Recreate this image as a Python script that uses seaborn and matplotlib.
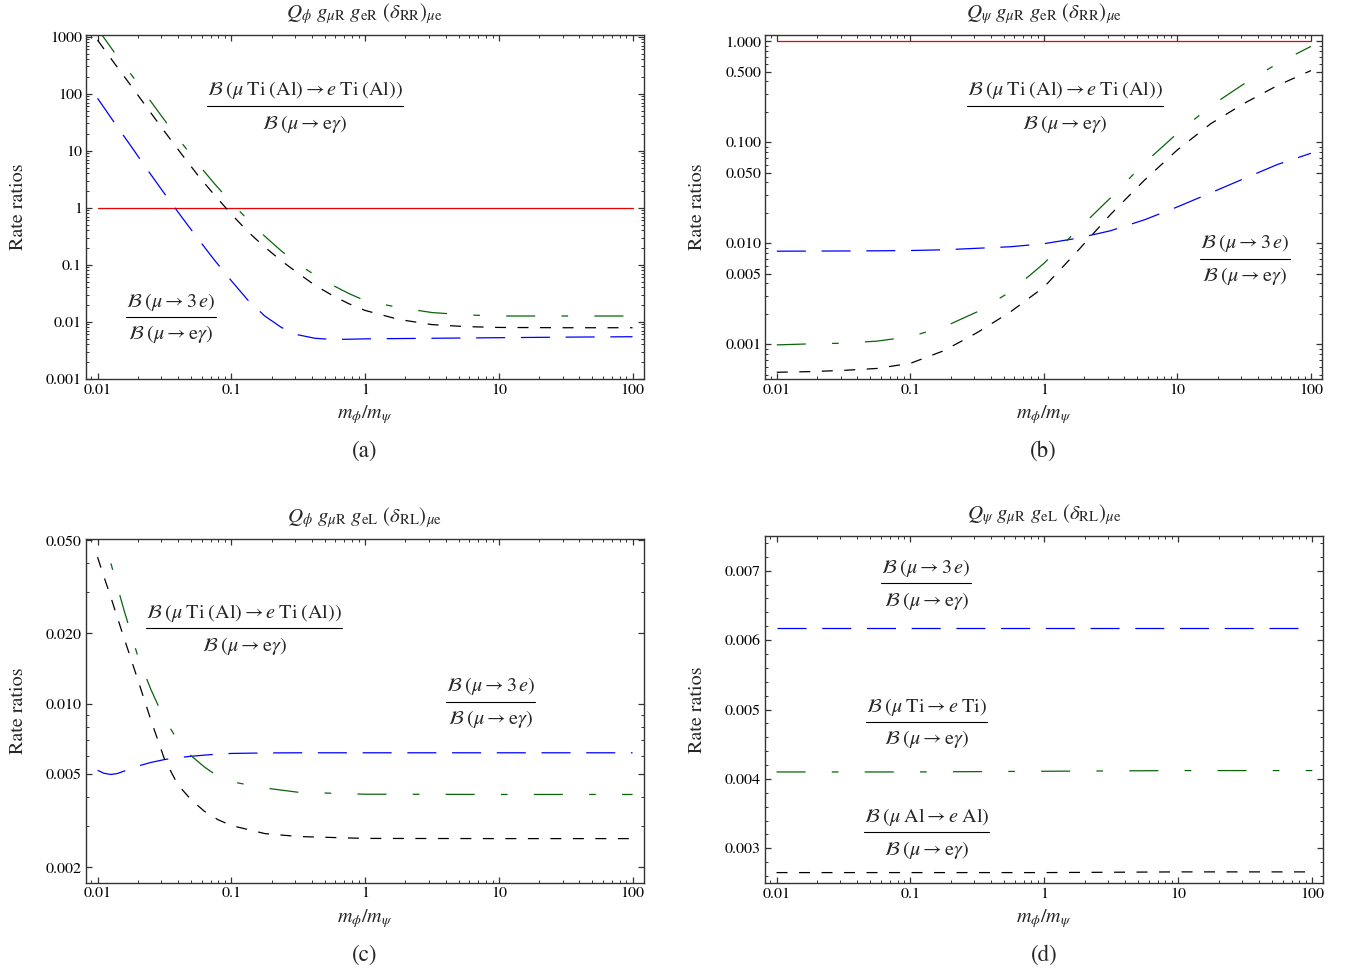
import matplotlib
matplotlib.use("Agg")
import matplotlib.pyplot as plt
from matplotlib import ticker
from matplotlib.lines import Line2D
import pandas as pd
import seaborn as sns

# ---------------------------------------------------------------- data
# mass ratio m_phi / m_psi sampled for each panel
m_a = [0.01, 0.0133, 0.0178, 0.0237, 0.0316, 0.0422, 0.0562, 0.075, 0.1, 0.133,
       0.178, 0.237, 0.316, 0.422, 0.562, 0.75, 1, 1.78, 3.16, 5.62, 10, 31.6, 100]
a_mu3e = [83.2, 31.6, 12.0, 4.57, 1.78, 0.708, 0.288, 0.120, 0.0525, 0.0240,
          0.0126, 0.00794, 0.00589, 0.00513, 0.00490, 0.00493, 0.00501, 0.00507,
          0.00513, 0.00519, 0.00525, 0.00537, 0.00546]
a_ti = [1380, 537, 219, 87.1, 34.7, 14.1, 5.89, 2.63, 1.23, 0.617, 0.316, 0.174,
        0.102, 0.0661, 0.0447, 0.0316, 0.0234, 0.0178, 0.0145, 0.0132, 0.0126,
        0.0126, 0.0126]
a_al = [871, 347, 138, 55.0, 21.9, 8.91, 3.72, 1.66, 0.776, 0.380, 0.204, 0.117,
        0.0708, 0.0437, 0.0295, 0.0209, 0.0158, 0.0110, 0.00891, 0.00822, 0.00794,
        0.00785, 0.00785]

m_b = [0.01, 0.0178, 0.0316, 0.0562, 0.1, 0.178, 0.316, 0.562, 1, 1.78, 3.16,
       5.62, 10, 17.8, 31.6, 56.2, 100]
b_mu3e = [0.00834, 0.00836, 0.00838, 0.00841, 0.00847, 0.00861, 0.00891, 0.00923,
          0.00989, 0.0112, 0.0133, 0.0170, 0.0229, 0.0316, 0.0437, 0.0603, 0.0778]
b_ti = [0.000984, 0.001007, 0.001023, 0.001072, 0.001189, 0.001479, 0.00209,
        0.00331, 0.00631, 0.0135, 0.0282, 0.0617, 0.123, 0.229, 0.380, 0.603, 0.891]
b_al = [0.000527, 0.000535, 0.000550, 0.000575, 0.000646, 0.000861, 0.00130,
        0.00209, 0.00367, 0.00832, 0.0193, 0.0417, 0.0841, 0.153, 0.243, 0.365, 0.513]

m_c = [0.01, 0.0112, 0.0126, 0.0141, 0.0158, 0.02, 0.0251, 0.0316, 0.0398, 0.0501,
       0.0631, 0.0794, 0.1, 0.178, 0.316, 1, 10, 100]
c_mu3e = [0.00520, 0.00505, 0.00499, 0.00504, 0.00516, 0.00542, 0.00562, 0.00578,
          0.00589, 0.00597, 0.00604, 0.00610, 0.00614, 0.00617, 0.00618, 0.00618,
          0.00618, 0.00618]
c_ti = [0.0676, 0.0519, 0.0398, 0.0316, 0.0251, 0.0160, 0.0115, 0.00861, 0.00700,
        0.00600, 0.00537, 0.00490, 0.00465, 0.00437, 0.00419, 0.00411, 0.00410,
        0.00410]
c_al = [0.0424, 0.0348, 0.0285, 0.0233, 0.0191, 0.0127, 0.00851, 0.00582, 0.00452,
        0.00389, 0.00347, 0.00320, 0.00302, 0.00279, 0.00271, 0.00266, 0.002655,
        0.002655]

m_d = [0.01, 0.1, 1, 10, 100]
d_mu3e = [0.00618, 0.00618, 0.00618, 0.00618, 0.00618]
d_ti = [0.00410, 0.00410, 0.00411, 0.00412, 0.00412]
d_al = [0.00265, 0.00265, 0.00265, 0.00266, 0.00266]

# mu -> e gamma normalised to itself
m_ends = [0.01, 100]
unit_ratio = [1.0, 1.0]

x_ticks = [0.01, 0.1, 1, 10, 100]
x_labels = ["0.01", "0.1", "1", "10", "100"]
ya_ticks = [0.001, 0.01, 0.1, 1, 10, 100, 1000]
ya_labels = ["0.001", "0.01", "0.1", "1", "10", "100", "1000"]
yb_ticks = [0.001, 0.005, 0.01, 0.05, 0.1, 0.5, 1.0]
yb_labels = ["0.001", "0.005", "0.010", "0.050", "0.100", "0.500", "1.000"]
yc_ticks = [0.002, 0.005, 0.01, 0.02, 0.05]
yc_labels = ["0.002", "0.005", "0.010", "0.020", "0.050"]
yd_ticks = [0.003, 0.004, 0.005, 0.006, 0.007]
yd_labels = ["0.003", "0.004", "0.005", "0.006", "0.007"]

titles = [
    r"$Q_\phi\ g_{\mu\mathrm{R}}\ g_{\mathrm{eR}}\ (\delta_{\mathrm{RR}})_{\mu\mathrm{e}}$",
    r"$Q_\psi\ g_{\mu\mathrm{R}}\ g_{\mathrm{eR}}\ (\delta_{\mathrm{RR}})_{\mu\mathrm{e}}$",
    r"$Q_\phi\ g_{\mu\mathrm{R}}\ g_{\mathrm{eL}}\ (\delta_{\mathrm{RL}})_{\mu\mathrm{e}}$",
    r"$Q_\psi\ g_{\mu\mathrm{R}}\ g_{\mathrm{eL}}\ (\delta_{\mathrm{RL}})_{\mu\mathrm{e}}$",
]
letters = ["(a)", "(b)", "(c)", "(d)"]

NUM_TIAL = (r"$\mathcal{B}\;(\mu\;\mathrm{Ti}\;(\mathrm{Al})\rightarrow e\;"
            r"\mathrm{Ti}\;(\mathrm{Al}))$")
NUM_3E = r"$\mathcal{B}\;(\mu\rightarrow 3\,e)$"
NUM_TI = r"$\mathcal{B}\;(\mu\;\mathrm{Ti}\rightarrow e\;\mathrm{Ti})$"
NUM_AL = r"$\mathcal{B}\;(\mu\;\mathrm{Al}\rightarrow e\;\mathrm{Al})$"
DEN = r"$\mathcal{B}\;(\mu\rightarrow \mathrm{e}\gamma)$"

# ---------------------------------------------------------------- style
sns.set_theme(style="ticks")
plt.rcParams.update({
    "font.family": "STIXGeneral",
    "mathtext.fontset": "stix",
    "lines.scale_dashes": False,
    "axes.linewidth": 1.0,
    "axes.edgecolor": "#333333",
    "xtick.direction": "in",
    "ytick.direction": "in",
    "xtick.top": True,
    "ytick.right": True,
    "xtick.major.size": 4.5,
    "ytick.major.size": 4.5,
    "xtick.minor.size": 2.2,
    "ytick.minor.size": 2.2,
    "xtick.major.width": 0.9,
    "ytick.major.width": 0.9,
    "xtick.minor.width": 0.7,
    "ytick.minor.width": 0.7,
    "xtick.color": "#333333",
    "ytick.color": "#333333",
    "xtick.labelcolor": "black",
    "ytick.labelcolor": "black",
    "xtick.labelsize": 11.5,
    "ytick.labelsize": 11.5,
    "xtick.major.pad": 3,
    "ytick.major.pad": 3,
})

RED = "#ee0000"
BLUE = "#0000ff"
GREEN = "#0a640a"
BLACK = "#000000"
LW = 0.9
LS_3E = (0, (20.9, 11.3))
LS_TI = (0, (20.9, 18.9, 4.8, 18.9))
LS_AL = (0, (7.9, 8.3))

W, H = 1346, 973
fig = plt.figure(figsize=(W / 100, H / 100), dpi=100)

# axes boxes in pixels: left, top, right, bottom
boxes = [(86, 35, 643.6, 379), (765.3, 35, 1322, 379),
         (86, 539, 643.6, 882.7), (765, 536, 1323.4, 883)]
axes = []
for (l, t, r, b) in boxes:
    axes.append(fig.add_axes([l / W, 1 - b / H, (r - l) / W, (b - t) / H]))


def curve(ax, m, vals, color, ls):
    df = pd.DataFrame({"m": m, "ratio": vals})
    sns.lineplot(data=df, x="m", y="ratio", ax=ax, color=color, linestyle=ls,
                 lw=LW, sort=False, estimator=None)


panels = [
    (m_a, a_mu3e, a_ti, a_al, True),
    (m_b, b_mu3e, b_ti, b_al, True),
    (m_c, c_mu3e, c_ti, c_al, False),
    (m_d, d_mu3e, d_ti, d_al, False),
]
yinfo = [
    ("log", (0.00099, 1070), ya_ticks, ya_labels),
    ("log", (0.000452, 1.155), yb_ticks, yb_labels),
    ("log", (0.00172, 0.0507), yc_ticks, yc_labels),
    ("linear", (0.0025, 0.0075), yd_ticks, yd_labels),
]

for i, ax in enumerate(axes):
    m, v3e, vti, val, with_ref = panels[i]
    yscale, ylim, yt, ylab = yinfo[i]
    ax.set_xscale("log")
    ax.set_yscale(yscale)
    if with_ref:
        curve(ax, m_ends, unit_ratio, RED, "-")
    curve(ax, m, v3e, BLUE, LS_3E)
    curve(ax, m, vti, GREEN, LS_TI)
    curve(ax, m, val, BLACK, LS_AL)

    ax.set_xlim(0.0082, 121)
    ax.set_ylim(*ylim)
    ax.xaxis.set_major_locator(ticker.FixedLocator(x_ticks))
    ax.xaxis.set_major_formatter(ticker.FixedFormatter(x_labels))
    ax.xaxis.set_minor_locator(ticker.LogLocator(base=10, subs=range(2, 10), numticks=50))
    ax.xaxis.set_minor_formatter(ticker.NullFormatter())
    ax.yaxis.set_major_locator(ticker.FixedLocator(yt))
    ax.yaxis.set_major_formatter(ticker.FixedFormatter(ylab))
    if yscale == "log":
        ax.yaxis.set_minor_locator(ticker.LogLocator(base=10, subs=range(1, 10), numticks=50))
    else:
        ax.yaxis.set_minor_locator(ticker.MultipleLocator(0.0002))
    ax.yaxis.set_minor_formatter(ticker.NullFormatter())
    for sp in ax.spines.values():
        sp.set_visible(True)

    hpx = boxes[i][3] - boxes[i][1]
    ax.set_title(titles[i], fontsize=15, pad=0, y=1 + 21 / hpx, va="center")
    ax.set_xlabel(r"$m_\phi/m_\psi$", fontsize=14.5)
    ax.xaxis.set_label_coords(0.5, -36 / hpx)
    ax.xaxis.label.set_va("center")
    ax.set_ylabel("Rate ratios", fontsize=14.5)
    wpx = boxes[i][2] - boxes[i][0]
    ax.yaxis.set_label_coords(-68 / wpx, 0.5)
    ax.yaxis.label.set_va("center")
    ax.text(0.5, -72 / hpx, letters[i], transform=ax.transAxes, ha="center",
            va="center", fontsize=16.5)

fig.canvas.draw()
renderer = fig.canvas.get_renderer()


def fraction(cx, y_num, y_bar, y_den, num):
    t = fig.text(cx / W, 1 - y_num / H, num, ha="center", va="center", fontsize=14.5)
    fig.text(cx / W, 1 - y_den / H, DEN, ha="center", va="center", fontsize=14.5)
    bb = t.get_window_extent(renderer=renderer)
    fig.add_artist(Line2D([bb.x0 / W, bb.x1 / W], [1 - y_bar / H] * 2,
                          transform=fig.transFigure, color="black", lw=0.8))


fraction(305, 90, 106, 124, NUM_TIAL)
fraction(171, 301.7, 317.3, 334.3, NUM_3E)
fraction(1065, 90, 106, 124, NUM_TIAL)
fraction(1245, 243.3, 259, 276, NUM_3E)
fraction(244.4, 612.7, 628.3, 646, NUM_TIAL)
fraction(490.3, 685.7, 701.7, 719.3, NUM_3E)
fraction(926.2, 568.3, 583.3, 600.7, NUM_3E)
fraction(926.2, 706.7, 721.7, 739.3, NUM_TI)
fraction(926.2, 816.7, 832.3, 850, NUM_AL)

fig.savefig("out.png", dpi=100, facecolor="white")
